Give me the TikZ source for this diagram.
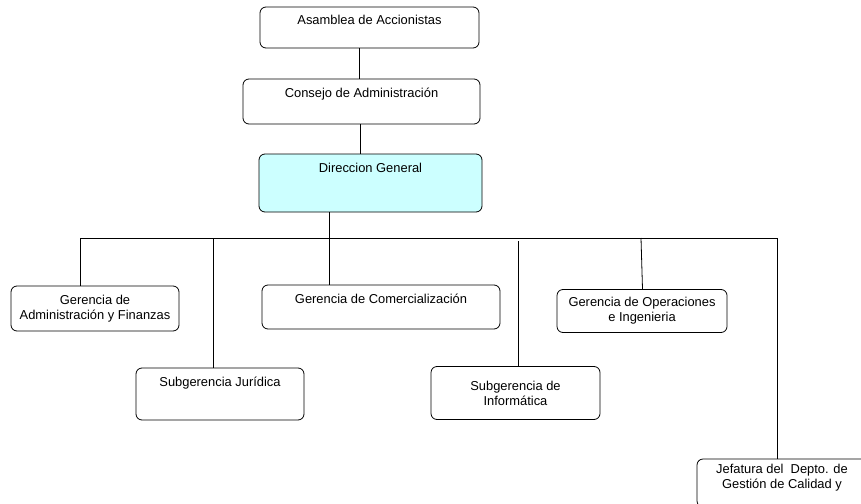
\documentclass[tikz,border=0pt]{standalone}
\usepackage{fontspec}
\setmainfont{Liberation Sans}
\usepackage{tikz}
\usetikzlibrary{positioning}
\definecolor{dircyan}{HTML}{CCFFFF}

\begin{document}
\begin{tikzpicture}[
    x=1pt, y=-1pt, % pixel-like units, y grows downwards
    line width=0.8pt,
    unit/.style={
        draw, % border round each office
        rounded corners=6pt, % rounded corners
        align=center, % centre the lines
        inner sep=0pt,
        font=\fontsize{12.9}{15}\selectfont
    },
    oneline/.style={text height=9pt, text depth=#1}, % pushes a single line to the top
    link/.style={draw, line width=0.8pt}
]
\useasboundingbox (0,0) rectangle (861,503);
\clip (0,0) rectangle (861,503);

% upper chain
\node[unit, oneline=14pt, minimum width=219pt, minimum height=41pt] (asamblea) at (369.5,27.5) {Asamblea de Accionistas};
\node[unit, oneline=18pt, minimum width=237pt, minimum height=45pt] (consejo) at (361.5,101.5) {Consejo de Administración};
\node[unit, oneline=31pt, minimum width=223pt, minimum height=58pt, fill=dircyan] (direccion) at (370.5,183) {Direccion General};

% offices under the general direction
\node[unit, minimum width=168pt, minimum height=45pt] (admfin) at (95,308.5) {Gerencia de\\Administración y Finanzas};
\node[unit, oneline=17pt, minimum width=238pt, minimum height=44pt] (comercial) at (381,307) {Gerencia de Comercialización};
\node[unit, minimum width=170pt, minimum height=43pt] (operaciones) at (642,311) {Gerencia de Operaciones\\e Ingenieria};
\node[unit, oneline=25pt, minimum width=168pt, minimum height=52pt] (juridica) at (220,394) {Subgerencia Jurídica};
\node[unit, minimum width=169pt, minimum height=53pt] (informatica) at (515.5,393) {Subgerencia de\\Informática};
\node[unit, minimum width=170pt, minimum height=48pt] (calidad) at (782,483) {Jefatura del\ \ Depto. de\\Gestión de Calidad y\rule[-14pt]{0pt}{14pt}};

% horizontal bus
\coordinate (busL) at (80,238);
\coordinate (busR) at (777.5,238);
\draw[link] (busL) -- (busR);

% connectors
\draw[link] ([xshift=-10.5pt]asamblea.south) -- ([xshift=-10.5pt]asamblea.south |- consejo.north);
\draw[link] ([xshift=-1.5pt]consejo.south) -- ([xshift=-1.5pt]consejo.south |- direccion.north);
\draw[link] ([xshift=-41pt]direccion.south) -- ([xshift=-41pt]direccion.south |- comercial.north);
\draw[link] (busL) -- (busL |- admfin.north);
\draw[link] (busL -| 213,0) -- (juridica.north -| 213,0);
\draw[link] ([yshift=-3pt]busL -| 518,0) -- (informatica.north -| 518,0);
\draw[link] (busL -| 641,0) -- (operaciones.north -| 642.5,0);
\draw[link] (busR) -- (busR |- calidad.north);
\end{tikzpicture}
\end{document}
